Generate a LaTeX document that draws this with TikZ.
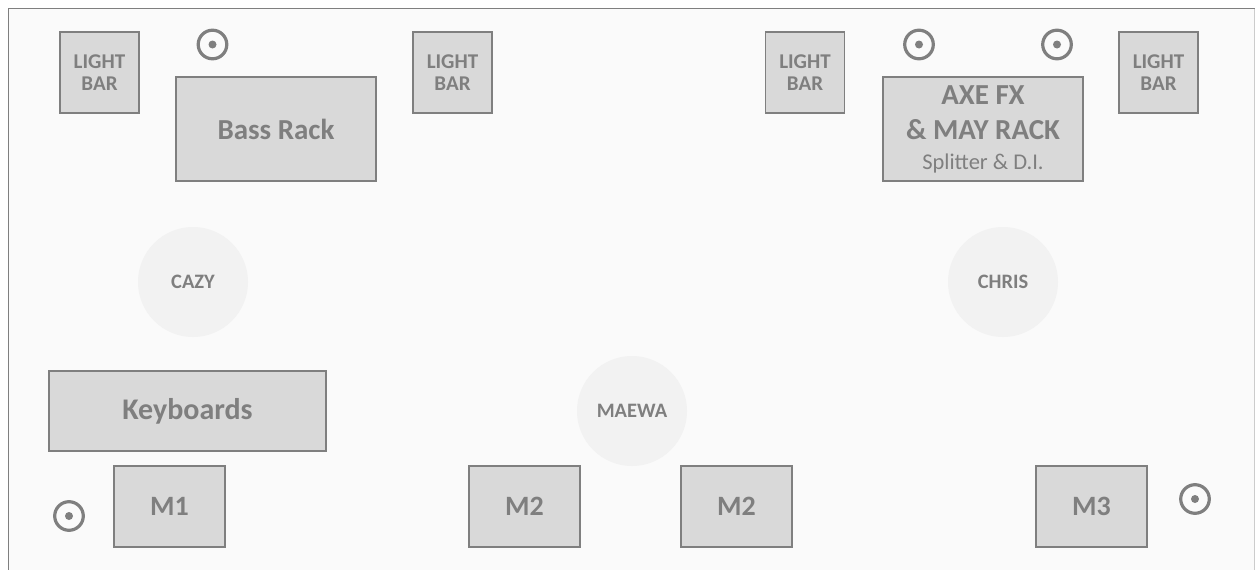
\documentclass[tikz,border=0pt]{standalone}
\usepackage{fontspec}
\setmainfont{Carlito}
\definecolor{linegray}{HTML}{7F7F7F}
\definecolor{boxfill}{HTML}{D9D9D9}
\definecolor{seatfill}{HTML}{F2F2F2}
\definecolor{stagebg}{HTML}{FAFAFA}
\tikzset{
  gear/.style={draw=linegray, fill=boxfill, line width=1.2pt, inner sep=0pt, text=linegray, align=center},
  lightbar/.style={gear, minimum width=79pt, minimum height=81pt, font=\fontsize{21}{22}\selectfont\bfseries},
  rack/.style={gear, minimum width=200pt, minimum height=104pt, font=\fontsize{29}{35}\selectfont\bfseries},
  monitor/.style={gear, minimum width=111pt, minimum height=81pt, font=\fontsize{28}{34}\selectfont\bfseries},
  seat/.style={circle, fill=seatfill, minimum size=110pt, inner sep=0pt, text=linegray, font=\fontsize{20.5}{24}\selectfont\bfseries},
  speaker/.style={circle, draw=linegray, line width=3.2pt, minimum size=28.6pt, inner sep=0pt},
}
\begin{document}
\begin{tikzpicture}[x=1pt,y=-1pt]
  \useasboundingbox (0,0) rectangle (1256,570);
  % stage
  \fill [stagebg] (8.5,8.5) rectangle (1254.5,570);
  \draw [linegray, line width=1.5pt] (8.5,570) -- (8.5,8.5) -- (1254.5,8.5);
  \draw [linegray!40, line width=1.2pt] (1254.5,8.5) -- (1254.5,570);
  % light bars
  \node [lightbar] (bar1) at (99.5,72.5) {LIGHT\\BAR};
  \node [lightbar] (bar2) at (452.5,72.5) {LIGHT\\BAR};
  \node [lightbar] (bar3) at (805,72.5) {LIGHT\\BAR};
  \node [lightbar] (bar4) at (1158.5,72.5) {LIGHT\\BAR};
  % racks
  \node [rack] (bass) at (276,129) {Bass Rack};
  \node [rack, font=\fontsize{29}{34}\selectfont\bfseries] (axe) at (983,129)
    {AXE FX\\[1pt]\& MAY RACK\\[-4pt]{\fontsize{22.5}{26}\selectfont\mdseries Splitter \& D.I.}};
  \node [gear, minimum width=277pt, minimum height=80pt, font=\fontsize{30}{36}\selectfont\bfseries] (keys) at (187.5,411) {Keyboards};
  % musicians
  \node [seat] (cazy) at (193,282) {CAZY};
  \node [seat] (chris) at (1003,282) {CHRIS};
  \node [seat] (maewa) at (632,411) {MAEWA};
  % monitors
  \node [monitor] (m1) at (169.5,506.5) {M1};
  \node [monitor] (m2a) at (524.5,506.5) {M2};
  \node [monitor] (m2b) at (736.5,506.5) {M2};
  \node [monitor] (m3) at (1091.5,506.5) {M3};
  % speakers
  \foreach \n/\p in {spk1/{(212.5,44.5)}, spk2/{(919,44.5)}, spk3/{(1057,44.5)}, spk4/{(69,516)}, spk5/{(1195,499)}}{
    \node [speaker] (\n) at \p {};
    \fill [linegray] (\n.center) circle (4pt);
  }
\end{tikzpicture}
\end{document}
